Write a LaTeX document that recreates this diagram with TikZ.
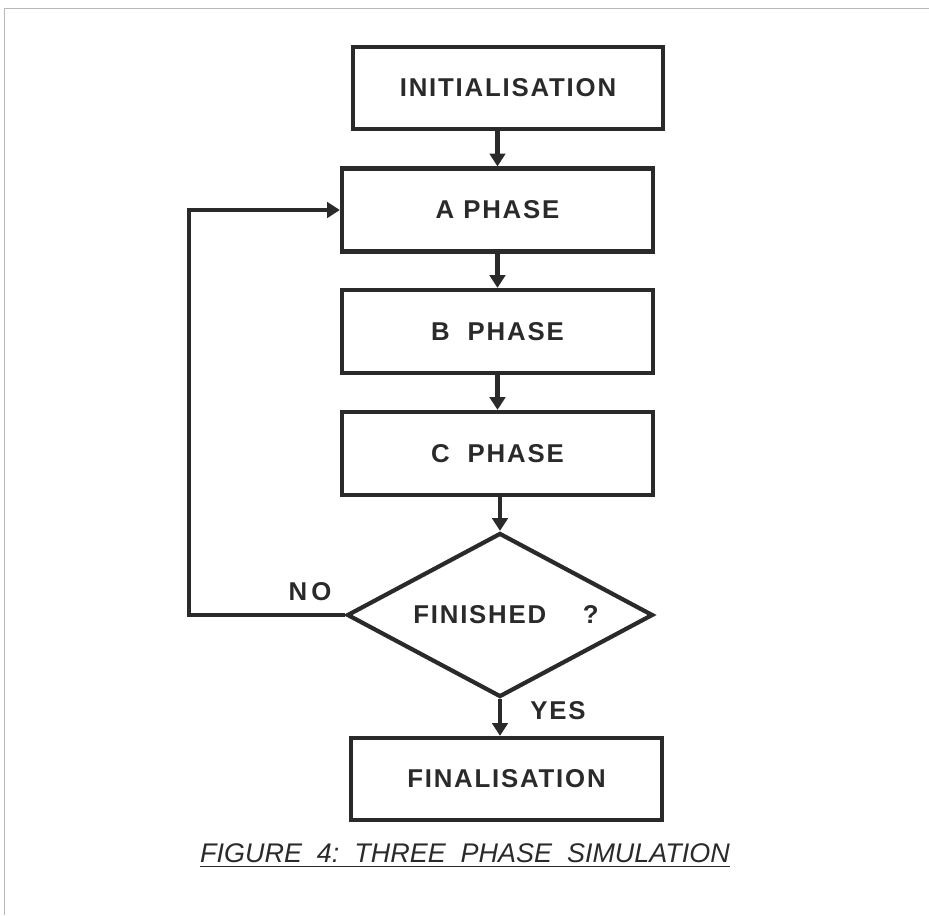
\documentclass[tikz,border=0pt]{standalone}
\usepackage{fontspec}
\setmainfont{Liberation Sans}
\newfontfamily\boxfont[LetterSpace=7]{Liberation Sans}
\usetikzlibrary{arrows.meta}
\usetikzlibrary{shapes.geometric}
\usetikzlibrary{positioning}
\definecolor{ink}{HTML}{2A2A2A}

\begin{document}
\begin{tikzpicture}[x=0.03cm, y=-0.03cm,
  phasebox/.style={draw=ink, line width=3.6pt, rectangle, minimum width=9.33cm, minimum height=2.49cm, inner sep=0pt, text=ink, font=\boxfont\bfseries\fontsize{22}{26}\selectfont},
  decision/.style={draw=ink, line width=3.6pt, diamond, aspect=1.87, minimum width=9.18cm, minimum height=4.92cm, inner sep=0pt, text=ink, font=\boxfont\bfseries\fontsize{22}{26}\selectfont},
  flow/.style={ink, line width=3.6pt, -{Triangle[length=0.38cm, width=0.46cm]}},
  answer/.style={text=ink, inner sep=0pt, font=\boxfont\bfseries\fontsize{22}{26}\selectfont}]
\useasboundingbox (0,0) rectangle (929,915);
\draw[gray!55, line width=0.6pt] (4,915) -- (4,8) -- (929,8);

\node[phasebox, minimum width=9.3cm, minimum height=2.46cm] (init) at (508,88) {INITIALISATION};
\node[phasebox] (aphase) at (497.5,210) {A PHASE};
\node[phasebox] (bphase) at (497.5,331.5) {B\ \ PHASE};
\node[phasebox] (cphase) at (497.5,453.5) {C\ \ PHASE};
\node[decision] (finished) at (500,615) {\hspace{0.36cm}FINISHED\hspace{1.1cm}?};
\node[phasebox, minimum height=2.46cm] (final) at (506.5,779) {FINALISATION};

\draw[flow] (aphase.north |- init.south) -- (aphase.north);
\draw[flow] (aphase.south) -- (bphase.north);
\draw[flow] (bphase.south) -- (cphase.north);
\draw[flow] (cphase.south -| finished.north) -- (finished.north);
\draw[flow] (finished.south) -- (finished.south |- final.north);

\coordinate (back) at (189,210);
\draw[flow] (finished.west) -| (back) -- (aphase.west);

\node[answer] (no) at (310,592) {N\,O};
\node[answer] (yes) at (558,711) {YES};

\node[text=ink, inner sep=0pt, font=\itshape\fontsize{23}{28}\selectfont] (caption) at (465,853) {FIGURE\ \ 4:\ \ THREE\ \ PHASE\ \ SIMULATION};
\draw[ink, line width=1.4pt] ([yshift=-0.13cm]caption.base west) -- ([yshift=-0.13cm]caption.base east);
\end{tikzpicture}
\end{document}
